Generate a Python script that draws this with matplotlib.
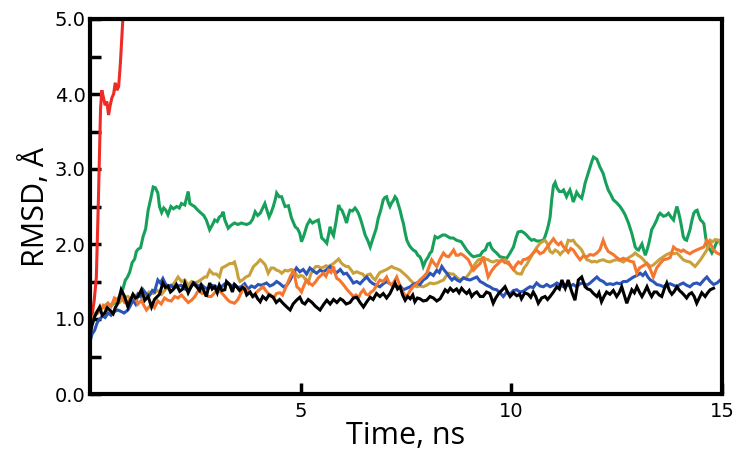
import matplotlib
matplotlib.use("Agg")
import matplotlib.pyplot as plt
from matplotlib.ticker import FixedLocator

# ---------------- data ----------------
t_red = [0.0, 0.05, 0.1, 0.15, 0.2, 0.25, 0.28, 0.32, 0.36, 0.40, 0.44, 0.48, 0.52, 0.56, 0.60, 0.64, 0.68, 0.72, 0.76, 0.80, 0.85]
rmsd_red = [0.9, 1.05, 1.25, 1.55, 2.6, 3.8, 4.05, 3.95, 3.85, 3.9, 3.72, 3.85, 3.95, 4.0, 4.15, 4.05, 4.1, 4.4, 4.8, 5.2, 5.6]

t_green = [0.0, 0.1, 0.2, 0.3, 0.4, 0.5, 0.6, 0.7, 0.78, 0.84, 0.88, 0.94, 1.0, 1.06, 1.1, 1.14, 1.2, 1.26, 1.32, 1.38,
           1.44, 1.5, 1.55, 1.61, 1.65, 1.7, 1.75, 1.8, 1.85, 1.92, 1.98, 2.06, 2.12, 2.17, 2.25, 2.33, 2.37, 2.42, 2.48, 2.56,
           2.64, 2.7, 2.76, 2.84, 2.9, 2.96, 3.02, 3.07, 3.12, 3.16, 3.2, 3.28, 3.35, 3.43, 3.51, 3.59, 3.65, 3.72, 3.8, 3.86,
           3.92, 3.98, 4.04, 4.1, 4.15, 4.2, 4.25, 4.3, 4.35, 4.4, 4.43, 4.49, 4.55, 4.59, 4.63, 4.71, 4.78, 4.87, 4.93, 4.98,
           5.02, 5.08, 5.15, 5.22, 5.28, 5.34, 5.42, 5.46, 5.5, 5.56, 5.62, 5.66, 5.7, 5.74, 5.78, 5.84, 5.9, 5.94, 5.98, 6.03,
           6.09, 6.13, 6.17, 6.23, 6.29, 6.33, 6.37, 6.41, 6.45, 6.49, 6.53, 6.59, 6.65, 6.69, 6.73, 6.79, 6.84, 6.9, 6.96, 7.0,
           7.04, 7.08, 7.12, 7.16, 7.2, 7.24, 7.28, 7.32, 7.36, 7.4, 7.44, 7.48, 7.52, 7.58, 7.62, 7.67, 7.73, 7.78, 7.83, 7.87,
           7.91, 7.97, 8.03, 8.07, 8.11, 8.15, 8.19, 8.25, 8.31, 8.37, 8.43, 8.49, 8.55, 8.62, 8.7, 8.76, 8.81, 8.87, 8.94, 9.0,
           9.05, 9.1, 9.18, 9.26, 9.32, 9.38, 9.44, 9.49, 9.53, 9.57, 9.65, 9.73, 9.81, 9.89, 9.97, 10.05, 10.11, 10.16, 10.24, 10.3,
           10.36, 10.42, 10.48, 10.54, 10.6, 10.68, 10.76, 10.8, 10.84, 10.88, 10.92, 10.96, 11.0, 11.04, 11.08, 11.14, 11.2, 11.24, 11.31, 11.35,
           11.39, 11.43, 11.47, 11.51, 11.55, 11.61, 11.67, 11.71, 11.75, 11.81, 11.87, 11.91, 11.95, 12.03, 12.1, 12.18, 12.24, 12.3, 12.36, 12.42,
           12.5, 12.58, 12.64, 12.7, 12.78, 12.86, 12.9, 12.94, 12.98, 13.02, 13.06, 13.1, 13.14, 13.18, 13.22, 13.26, 13.3, 13.33, 13.39, 13.45,
           13.49, 13.53, 13.57, 13.61, 13.67, 13.73, 13.79, 13.85, 13.89, 13.93, 13.97, 14.01, 14.05, 14.08, 14.12, 14.16, 14.2, 14.24, 14.28, 14.33,
           14.37, 14.41, 14.45, 14.49, 14.53, 14.57, 14.61, 14.64, 14.68, 14.72, 14.76, 14.8, 14.84, 14.88, 14.96]
rmsd_green = [0.95, 1.05, 1.12, 1.15, 1.2, 1.18, 1.22, 1.3, 1.4, 1.52, 1.55, 1.62, 1.75, 1.8, 1.9, 1.93, 1.95, 2.1, 2.2, 2.45,
              2.6, 2.76, 2.75, 2.68, 2.5, 2.42, 2.48, 2.45, 2.39, 2.5, 2.47, 2.5, 2.48, 2.54, 2.52, 2.7, 2.54, 2.52, 2.5, 2.45,
              2.41, 2.38, 2.32, 2.19, 2.25, 2.32, 2.3, 2.36, 2.38, 2.43, 2.32, 2.21, 2.25, 2.28, 2.26, 2.28, 2.27, 2.26, 2.28, 2.33,
              2.43, 2.38, 2.41, 2.48, 2.54, 2.45, 2.36, 2.42, 2.5, 2.6, 2.68, 2.63, 2.63, 2.56, 2.5, 2.51, 2.35, 2.23, 2.2, 2.14,
              2.03, 2.12, 2.25, 2.32, 2.28, 2.3, 2.32, 2.2, 2.08, 2.05, 2.01, 2.12, 2.23, 2.15, 2.11, 2.3, 2.52, 2.47, 2.45, 2.38,
              2.28, 2.38, 2.45, 2.44, 2.48, 2.45, 2.41, 2.35, 2.28, 2.2, 2.12, 2.05, 1.96, 2.03, 2.1, 2.2, 2.34, 2.45, 2.59, 2.62,
              2.63, 2.55, 2.5, 2.55, 2.58, 2.63, 2.6, 2.52, 2.45, 2.35, 2.27, 2.15, 2.05, 1.98, 1.95, 1.92, 1.9, 1.85, 1.83, 1.78,
              1.7, 1.78, 1.83, 1.88, 1.9, 2.0, 2.1, 2.08, 2.1, 2.12, 2.12, 2.1, 2.08, 2.08, 2.05, 2.04, 2.03, 1.98, 1.92, 1.88,
              1.85, 1.83, 1.84, 1.85, 1.9, 1.92, 2.0, 2.01, 1.95, 1.92, 1.88, 1.83, 1.82, 1.81, 1.88, 1.96, 2.08, 2.16, 2.17, 2.15,
              2.12, 2.08, 2.05, 2.06, 2.04, 2.04, 2.05, 2.1, 2.17, 2.25, 2.36, 2.6, 2.78, 2.82, 2.75, 2.7, 2.7, 2.72, 2.63, 2.68,
              2.72, 2.65, 2.56, 2.62, 2.69, 2.64, 2.61, 2.7, 2.81, 2.92, 3.03, 3.1, 3.16, 3.13, 3.03, 2.94, 2.82, 2.72, 2.66, 2.59,
              2.55, 2.5, 2.45, 2.39, 2.28, 2.14, 2.05, 1.96, 1.93, 1.92, 1.96, 2.0, 1.92, 1.85, 1.92, 2.0, 2.1, 2.19, 2.25, 2.32,
              2.38, 2.41, 2.39, 2.37, 2.38, 2.41, 2.36, 2.32, 2.42, 2.5, 2.42, 2.32, 2.2, 2.1, 2.06, 2.05, 2.12, 2.19, 2.3, 2.41,
              2.44, 2.45, 2.38, 2.32, 2.3, 2.27, 2.1, 2.0, 1.95, 1.92, 1.88, 1.92, 1.98, 2.03, 2.05]

t_gold = [0.0, 0.1, 0.2, 0.3, 0.4, 0.5, 0.6, 0.7, 0.8, 0.9, 1.0, 1.1, 1.2, 1.3, 1.4, 1.5, 1.6, 1.7, 1.8, 1.9,
          2.0, 2.09, 2.17, 2.25, 2.33, 2.41, 2.49, 2.57, 2.65, 2.72, 2.77, 2.84, 2.92, 3.0, 3.07, 3.13, 3.2, 3.26, 3.32, 3.38,
          3.43, 3.48, 3.52, 3.56, 3.62, 3.7, 3.78, 3.88, 3.96, 4.04, 4.1, 4.16, 4.23, 4.3, 4.36, 4.43, 4.49, 4.55, 4.63, 4.7,
          4.77, 4.83, 4.89, 4.95, 5.0, 5.06, 5.12, 5.18, 5.24, 5.3, 5.36, 5.42, 5.48, 5.54, 5.6, 5.66, 5.72, 5.78, 5.84, 5.9,
          5.96, 6.02, 6.08, 6.13, 6.19, 6.25, 6.33, 6.41, 6.47, 6.53, 6.59, 6.65, 6.71, 6.77, 6.83, 6.88, 6.96, 7.04, 7.1, 7.16,
          7.22, 7.28, 7.36, 7.44, 7.52, 7.6, 7.67, 7.75, 7.83, 7.91, 7.99, 8.07, 8.15, 8.23, 8.31, 8.39, 8.45, 8.51, 8.57, 8.62,
          8.7, 8.78, 8.86, 8.94, 9.02, 9.1, 9.16, 9.22, 9.28, 9.33, 9.39, 9.45, 9.51, 9.57, 9.65, 9.73, 9.79, 9.85, 9.91, 9.97,
          10.05, 10.13, 10.2, 10.24, 10.3, 10.36, 10.44, 10.52, 10.6, 10.68, 10.74, 10.8, 10.86, 10.92, 10.98, 11.04, 11.1, 11.16, 11.22, 11.28,
          11.35, 11.41, 11.47, 11.53, 11.59, 11.67, 11.73, 11.79, 11.85, 11.91, 11.97, 12.03, 12.1, 12.18, 12.26, 12.34, 12.42, 12.5, 12.58, 12.66,
          12.74, 12.82, 12.88, 12.94, 13.0, 13.06, 13.12, 13.18, 13.24, 13.3, 13.37, 13.45, 13.53, 13.61, 13.69, 13.77, 13.85, 13.93, 14.0, 14.08,
          14.16, 14.24, 14.3, 14.36, 14.42, 14.49, 14.57, 14.64, 14.72, 14.78, 14.84, 14.92, 14.98]
rmsd_gold = [0.95, 1.05, 1.12, 1.15, 1.2, 1.18, 1.25, 1.22, 1.28, 1.3, 1.25, 1.32, 1.35, 1.3, 1.36, 1.34, 1.38, 1.33, 1.4, 1.42,
             1.48, 1.56, 1.5, 1.52, 1.45, 1.5, 1.48, 1.5, 1.53, 1.56, 1.56, 1.65, 1.6, 1.6, 1.56, 1.68, 1.7, 1.72, 1.74, 1.74,
             1.76, 1.66, 1.55, 1.5, 1.52, 1.56, 1.58, 1.7, 1.74, 1.79, 1.76, 1.72, 1.61, 1.68, 1.68, 1.65, 1.64, 1.61, 1.65, 1.64,
             1.66, 1.65, 1.6, 1.56, 1.58, 1.57, 1.52, 1.48, 1.6, 1.66, 1.7, 1.7, 1.68, 1.69, 1.71, 1.7, 1.72, 1.74, 1.77, 1.8,
             1.75, 1.72, 1.7, 1.7, 1.66, 1.61, 1.63, 1.61, 1.6, 1.56, 1.59, 1.6, 1.55, 1.52, 1.58, 1.62, 1.64, 1.66, 1.68, 1.7,
             1.68, 1.67, 1.65, 1.61, 1.57, 1.52, 1.48, 1.43, 1.44, 1.43, 1.45, 1.48, 1.47, 1.48, 1.5, 1.52, 1.57, 1.61, 1.6, 1.6,
             1.56, 1.52, 1.54, 1.56, 1.62, 1.7, 1.75, 1.79, 1.8, 1.82, 1.8, 1.79, 1.77, 1.76, 1.78, 1.77, 1.78, 1.79, 1.74, 1.72,
             1.66, 1.61, 1.6, 1.6, 1.68, 1.72, 1.8, 1.88, 1.95, 2.01, 2.03, 2.05, 2.0, 1.9, 1.88, 1.92, 1.9, 1.86, 1.9, 1.92,
             2.05, 2.04, 2.05, 2.0, 1.97, 1.92, 1.85, 1.79, 1.78, 1.76, 1.77, 1.76, 1.78, 1.79, 1.77, 1.76, 1.78, 1.79, 1.78, 1.76,
             1.8, 1.83, 1.85, 1.88, 1.85, 1.83, 1.8, 1.76, 1.73, 1.7, 1.72, 1.76, 1.8, 1.83, 1.86, 1.88, 1.87, 1.88, 1.84, 1.79,
             1.77, 1.76, 1.73, 1.7, 1.74, 1.79, 1.86, 1.92, 2.05, 2.03, 2.06, 2.05, 1.98]

t_orange = [0.0, 0.06, 0.12, 0.19, 0.25, 0.31, 0.37, 0.43, 0.5, 0.58, 0.66, 0.74, 0.82, 0.9, 0.98, 1.06, 1.14, 1.22, 1.28, 1.34,
            1.4, 1.46, 1.53, 1.61, 1.69, 1.77, 1.85, 1.93, 2.01, 2.09, 2.17, 2.25, 2.33, 2.41, 2.49, 2.55, 2.6, 2.66, 2.72, 2.8,
            2.88, 2.96, 3.04, 3.12, 3.2, 3.26, 3.32, 3.38, 3.43, 3.51, 3.59, 3.65, 3.72, 3.8, 3.88, 3.96, 4.04, 4.11, 4.17, 4.23,
            4.29, 4.35, 4.43, 4.51, 4.57, 4.63, 4.69, 4.75, 4.83, 4.91, 4.97, 5.02, 5.08, 5.14, 5.2, 5.28, 5.36, 5.42, 5.48, 5.54,
            5.6, 5.66, 5.72, 5.78, 5.82, 5.86, 5.92, 5.98, 6.04, 6.09, 6.17, 6.25, 6.31, 6.37, 6.43, 6.49, 6.55, 6.61, 6.67, 6.73,
            6.8, 6.88, 6.96, 7.04, 7.1, 7.16, 7.22, 7.28, 7.34, 7.4, 7.46, 7.52, 7.6, 7.67, 7.75, 7.83, 7.91, 7.99, 8.05, 8.11,
            8.17, 8.23, 8.31, 8.39, 8.45, 8.51, 8.57, 8.63, 8.69, 8.74, 8.8, 8.86, 8.92, 8.98, 9.04, 9.1, 9.18, 9.26, 9.33, 9.39,
            9.45, 9.53, 9.61, 9.69, 9.77, 9.85, 9.93, 9.99, 10.05, 10.11, 10.17, 10.23, 10.28, 10.36, 10.44, 10.52, 10.6, 10.68, 10.76, 10.84,
            10.92, 11.0, 11.06, 11.12, 11.18, 11.24, 11.3, 11.35, 11.41, 11.47, 11.55, 11.63, 11.71, 11.79, 11.87, 11.95, 12.03, 12.1, 12.18, 12.24,
            12.3, 12.36, 12.42, 12.5, 12.58, 12.66, 12.74, 12.82, 12.9, 12.98, 13.04, 13.1, 13.16, 13.22, 13.3, 13.37, 13.45, 13.53, 13.61, 13.69,
            13.77, 13.85, 13.91, 13.97, 14.03, 14.08, 14.16, 14.24, 14.32, 14.4, 14.48, 14.57, 14.64, 14.72, 14.8, 14.88, 14.96]
rmsd_orange = [0.92, 1.0, 1.05, 1.08, 1.12, 1.18, 1.14, 1.21, 1.17, 1.28, 1.25, 1.3, 1.22, 1.24, 1.27, 1.3, 1.2, 1.25, 1.18, 1.12,
               1.16, 1.2, 1.15, 1.24, 1.2, 1.28, 1.25, 1.24, 1.3, 1.28, 1.32, 1.27, 1.22, 1.25, 1.3, 1.36, 1.39, 1.34, 1.35, 1.3,
               1.3, 1.35, 1.39, 1.35, 1.3, 1.26, 1.23, 1.22, 1.21, 1.26, 1.35, 1.43, 1.38, 1.34, 1.3, 1.36, 1.4, 1.43, 1.38, 1.34,
               1.32, 1.28, 1.34, 1.35, 1.32, 1.4, 1.48, 1.56, 1.65, 1.43, 1.4, 1.36, 1.45, 1.52, 1.48, 1.45, 1.5, 1.55, 1.58, 1.61,
               1.57, 1.65, 1.62, 1.7, 1.6, 1.54, 1.52, 1.48, 1.44, 1.4, 1.35, 1.3, 1.32, 1.28, 1.35, 1.39, 1.33, 1.32, 1.36, 1.38,
               1.45, 1.52, 1.5, 1.56, 1.48, 1.45, 1.5, 1.56, 1.47, 1.38, 1.33, 1.3, 1.38, 1.43, 1.47, 1.52, 1.56, 1.61, 1.7, 1.79,
               1.74, 1.7, 1.8, 1.88, 1.84, 1.83, 1.87, 1.92, 1.85, 1.85, 1.87, 1.85, 1.82, 1.79, 1.72, 1.65, 1.7, 1.74, 1.83, 1.7,
               1.56, 1.64, 1.7, 1.74, 1.79, 1.75, 1.76, 1.7, 1.66, 1.72, 1.76, 1.74, 1.79, 1.8, 1.83, 1.88, 1.92, 1.87, 1.89, 1.95,
               2.01, 2.07, 2.02, 1.99, 2.02, 1.96, 1.93, 1.89, 1.94, 1.92, 1.85, 1.79, 1.84, 1.83, 1.86, 1.85, 1.88, 1.92, 2.05, 1.96,
               1.9, 1.88, 1.86, 1.82, 1.79, 1.81, 1.79, 1.77, 1.76, 1.61, 1.68, 1.7, 1.72, 1.74, 1.66, 1.56, 1.68, 1.74, 1.79, 1.8,
               1.82, 1.96, 1.93, 1.92, 1.9, 1.92, 1.89, 1.87, 1.9, 1.92, 1.94, 1.96, 2.05, 2.01, 1.92, 1.88, 1.86]

t_blue = [0.0, 0.05, 0.11, 0.17, 0.23, 0.3, 0.36, 0.43, 0.5, 0.58, 0.66, 0.74, 0.81, 0.9, 0.96, 1.02, 1.08, 1.14, 1.2, 1.26,
          1.34, 1.42, 1.48, 1.53, 1.61, 1.67, 1.73, 1.79, 1.85, 1.92, 2.0, 2.08, 2.16, 2.25, 2.33, 2.41, 2.48, 2.56, 2.64, 2.72,
          2.8, 2.88, 2.96, 3.04, 3.12, 3.2, 3.28, 3.36, 3.43, 3.51, 3.59, 3.67, 3.75, 3.83, 3.91, 3.99, 4.07, 4.19, 4.27, 4.35,
          4.43, 4.51, 4.59, 4.67, 4.75, 4.82, 4.9, 4.98, 5.06, 5.14, 5.22, 5.3, 5.38, 5.46, 5.54, 5.62, 5.7, 5.78, 5.86, 5.94,
          6.02, 6.09, 6.17, 6.25, 6.33, 6.41, 6.49, 6.57, 6.65, 6.72, 6.8, 6.88, 6.96, 7.04, 7.12, 7.2, 7.28, 7.36, 7.44, 7.52,
          7.6, 7.67, 7.75, 7.83, 7.91, 7.99, 8.07, 8.15, 8.23, 8.29, 8.35, 8.41, 8.47, 8.53, 8.59, 8.65, 8.71, 8.78, 8.86, 8.94,
          9.02, 9.1, 9.18, 9.26, 9.33, 9.41, 9.49, 9.57, 9.65, 9.73, 9.81, 9.89, 9.97, 10.05, 10.13, 10.2, 10.28, 10.36, 10.44, 10.52,
          10.6, 10.68, 10.76, 10.84, 10.92, 11.0, 11.08, 11.16, 11.24, 11.31, 11.39, 11.47, 11.55, 11.63, 11.71, 11.79, 11.87, 11.95, 12.03, 12.1,
          12.18, 12.26, 12.34, 12.42, 12.5, 12.58, 12.66, 12.74, 12.82, 12.9, 12.98, 13.06, 13.12, 13.18, 13.24, 13.3, 13.37, 13.45, 13.53, 13.61,
          13.69, 13.77, 13.85, 13.93, 14.0, 14.08, 14.16, 14.24, 14.32, 14.4, 14.48, 14.57, 14.64, 14.72, 14.8, 14.88, 14.96]
rmsd_blue = [0.7, 0.8, 0.85, 0.95, 1.0, 1.04, 1.02, 1.08, 1.05, 1.1, 1.12, 1.1, 1.08, 1.12, 1.18, 1.25, 1.2, 1.33, 1.3, 1.39,
             1.33, 1.32, 1.38, 1.36, 1.52, 1.48, 1.54, 1.47, 1.43, 1.45, 1.41, 1.44, 1.45, 1.4, 1.38, 1.44, 1.48, 1.44, 1.46, 1.42,
             1.4, 1.45, 1.44, 1.42, 1.43, 1.47, 1.48, 1.44, 1.46, 1.42, 1.43, 1.47, 1.4, 1.44, 1.42, 1.46, 1.45, 1.48, 1.44, 1.46,
             1.5, 1.47, 1.43, 1.45, 1.52, 1.6, 1.68, 1.63, 1.66, 1.6, 1.68, 1.64, 1.61, 1.65, 1.63, 1.66, 1.7, 1.64, 1.62, 1.66,
             1.6, 1.61, 1.55, 1.48, 1.5, 1.47, 1.52, 1.56, 1.5, 1.47, 1.45, 1.43, 1.47, 1.5, 1.47, 1.45, 1.43, 1.44, 1.39, 1.41,
             1.43, 1.46, 1.48, 1.46, 1.52, 1.55, 1.61, 1.58, 1.65, 1.62, 1.7, 1.65, 1.61, 1.56, 1.52, 1.55, 1.52, 1.5, 1.55, 1.53,
             1.52, 1.54, 1.56, 1.5, 1.48, 1.45, 1.43, 1.4, 1.39, 1.35, 1.3, 1.36, 1.33, 1.38, 1.39, 1.36, 1.37, 1.4, 1.43, 1.42,
             1.48, 1.44, 1.43, 1.46, 1.43, 1.45, 1.48, 1.45, 1.43, 1.45, 1.44, 1.46, 1.43, 1.47, 1.48, 1.45, 1.48, 1.52, 1.56, 1.52,
             1.5, 1.46, 1.47, 1.46, 1.48, 1.47, 1.5, 1.5, 1.53, 1.56, 1.58, 1.61, 1.58, 1.62, 1.56, 1.52, 1.5, 1.46, 1.45, 1.43,
             1.46, 1.47, 1.45, 1.43, 1.46, 1.48, 1.45, 1.43, 1.47, 1.48, 1.46, 1.52, 1.56, 1.5, 1.46, 1.48, 1.52]

t_black = [0.0, 0.05, 0.11, 0.17, 0.23, 0.29, 0.35, 0.41, 0.47, 0.55, 0.6, 0.66, 0.74, 0.82, 0.9, 0.96, 1.02, 1.08, 1.14, 1.22,
           1.3, 1.38, 1.46, 1.53, 1.6, 1.65, 1.73, 1.79, 1.85, 1.91, 1.97, 2.05, 2.13, 2.2, 2.25, 2.33, 2.39, 2.45, 2.53, 2.6,
           2.64, 2.7, 2.76, 2.84, 2.9, 2.96, 3.02, 3.07, 3.13, 3.2, 3.24, 3.32, 3.38, 3.43, 3.48, 3.55, 3.62, 3.67, 3.72, 3.8,
           3.86, 3.92, 3.98, 4.04, 4.1, 4.18, 4.25, 4.35, 4.42, 4.5, 4.58, 4.67, 4.75, 4.82, 4.9, 4.98, 5.04, 5.1, 5.18, 5.27,
           5.35, 5.46, 5.54, 5.62, 5.7, 5.78, 5.86, 5.94, 6.0, 6.08, 6.17, 6.25, 6.33, 6.41, 6.49, 6.57, 6.65, 6.72, 6.8, 6.88,
           6.96, 7.04, 7.12, 7.24, 7.3, 7.36, 7.42, 7.48, 7.54, 7.6, 7.66, 7.71, 7.77, 7.83, 7.91, 7.99, 8.07, 8.15, 8.23, 8.31,
           8.37, 8.43, 8.49, 8.55, 8.62, 8.7, 8.76, 8.82, 8.88, 8.94, 9.0, 9.06, 9.12, 9.18, 9.26, 9.33, 9.41, 9.49, 9.57, 9.63,
           9.7, 9.77, 9.85, 9.91, 9.97, 10.05, 10.13, 10.2, 10.24, 10.32, 10.4, 10.46, 10.52, 10.58, 10.64, 10.72, 10.8, 10.86, 10.92, 11.0,
           11.08, 11.14, 11.2, 11.28, 11.35, 11.43, 11.51, 11.59, 11.67, 11.75, 11.81, 11.87, 11.95, 12.03, 12.08, 12.14, 12.2, 12.26, 12.34, 12.42,
           12.5, 12.56, 12.62, 12.68, 12.74, 12.8, 12.86, 12.92, 12.98, 13.04, 13.1, 13.16, 13.22, 13.28, 13.33, 13.39, 13.45, 13.51, 13.57, 13.63,
           13.69, 13.75, 13.81, 13.87, 13.93, 13.99, 14.05, 14.1, 14.16, 14.22, 14.28, 14.34, 14.4, 14.46, 14.52, 14.6, 14.66, 14.72, 14.8]
rmsd_black = [0.78, 0.92, 1.03, 1.1, 1.16, 1.05, 1.08, 1.15, 1.12, 1.07, 1.15, 1.21, 1.39, 1.3, 1.16, 1.25, 1.33, 1.28, 1.3, 1.39,
              1.25, 1.3, 1.16, 1.26, 1.3, 1.33, 1.48, 1.42, 1.44, 1.36, 1.39, 1.46, 1.37, 1.4, 1.48, 1.35, 1.42, 1.48, 1.43, 1.38,
              1.45, 1.38, 1.3, 1.48, 1.4, 1.43, 1.35, 1.45, 1.38, 1.39, 1.5, 1.45, 1.36, 1.46, 1.43, 1.38, 1.42, 1.4, 1.32, 1.36,
              1.3, 1.33, 1.27, 1.23, 1.3, 1.26, 1.32, 1.29, 1.22, 1.26, 1.21, 1.16, 1.12, 1.2, 1.25, 1.29, 1.22, 1.2, 1.26, 1.22,
              1.17, 1.12, 1.19, 1.25, 1.2, 1.26, 1.22, 1.27, 1.25, 1.2, 1.22, 1.28, 1.29, 1.22, 1.16, 1.23, 1.29, 1.26, 1.34, 1.3,
              1.34, 1.28, 1.34, 1.48, 1.4, 1.43, 1.32, 1.25, 1.3, 1.27, 1.32, 1.23, 1.28, 1.27, 1.24, 1.25, 1.3, 1.28, 1.24, 1.27,
              1.33, 1.39, 1.36, 1.41, 1.37, 1.4, 1.35, 1.41, 1.37, 1.34, 1.38, 1.3, 1.34, 1.36, 1.3, 1.3, 1.36, 1.34, 1.21, 1.28,
              1.34, 1.38, 1.43, 1.36, 1.3, 1.35, 1.31, 1.33, 1.27, 1.35, 1.33, 1.29, 1.36, 1.3, 1.21, 1.28, 1.3, 1.26, 1.3, 1.36,
              1.43, 1.4, 1.52, 1.41, 1.52, 1.37, 1.25, 1.52, 1.56, 1.43, 1.4, 1.39, 1.34, 1.3, 1.35, 1.23, 1.3, 1.36, 1.33, 1.38,
              1.3, 1.35, 1.43, 1.32, 1.21, 1.3, 1.39, 1.35, 1.43, 1.36, 1.3, 1.36, 1.43, 1.35, 1.3, 1.36, 1.36, 1.32, 1.3, 1.4,
              1.48, 1.38, 1.33, 1.37, 1.43, 1.38, 1.35, 1.32, 1.28, 1.33, 1.35, 1.3, 1.21, 1.28, 1.35, 1.3, 1.35, 1.39, 1.41]

series = [
    (t_red, rmsd_red, "#ee2b24"),
    (t_green, rmsd_green, "#16a05a"),
    (t_gold, rmsd_gold, "#c9a13c"),
    (t_blue, rmsd_blue, "#2b55b8"),
    (t_orange, rmsd_orange, "#f5772f"),
    (t_black, rmsd_black, "#000000"),
]

x_ticks = [5, 10, 15]
y_ticks = [0.0, 1.0, 2.0, 3.0, 4.0, 5.0]
y_minor = [0.5, 1.5, 2.5, 3.5, 4.5]

# ---------------- figure ----------------
fig = plt.figure(figsize=(7.5, 4.54), dpi=100)
ax = fig.add_axes([90 / 750, (454 - 394) / 454, (722 - 90) / 750, (394 - 19) / 454])

for t, v, c in series:
    ax.plot(t, v, color=c, lw=2.2, solid_joinstyle="miter")

ax.set_xlim(0, 15)
ax.set_ylim(0, 5)
ax.xaxis.set_major_locator(FixedLocator(x_ticks))
ax.yaxis.set_major_locator(FixedLocator(y_ticks))
ax.yaxis.set_minor_locator(FixedLocator(y_minor))
ax.set_xticklabels([str(x) for x in x_ticks])
ax.set_yticklabels([f"{y:.1f}" for y in y_ticks])

for s in ax.spines.values():
    s.set_linewidth(3.0)
ax.tick_params(axis="both", which="both", direction="in", length=8, width=2.5,
               top=False, right=False, labelsize=14)
ax.tick_params(axis="y", pad=3)
ax.tick_params(axis="x", pad=6)

ax.set_xlabel("Time, ns", fontsize=22, family=["Open Sans", "DejaVu Sans"], labelpad=0)
ax.set_ylabel("RMSD, Å", fontsize=22, family=["Open Sans", "DejaVu Sans"], labelpad=3)

fig.savefig("out.png", dpi=100)
